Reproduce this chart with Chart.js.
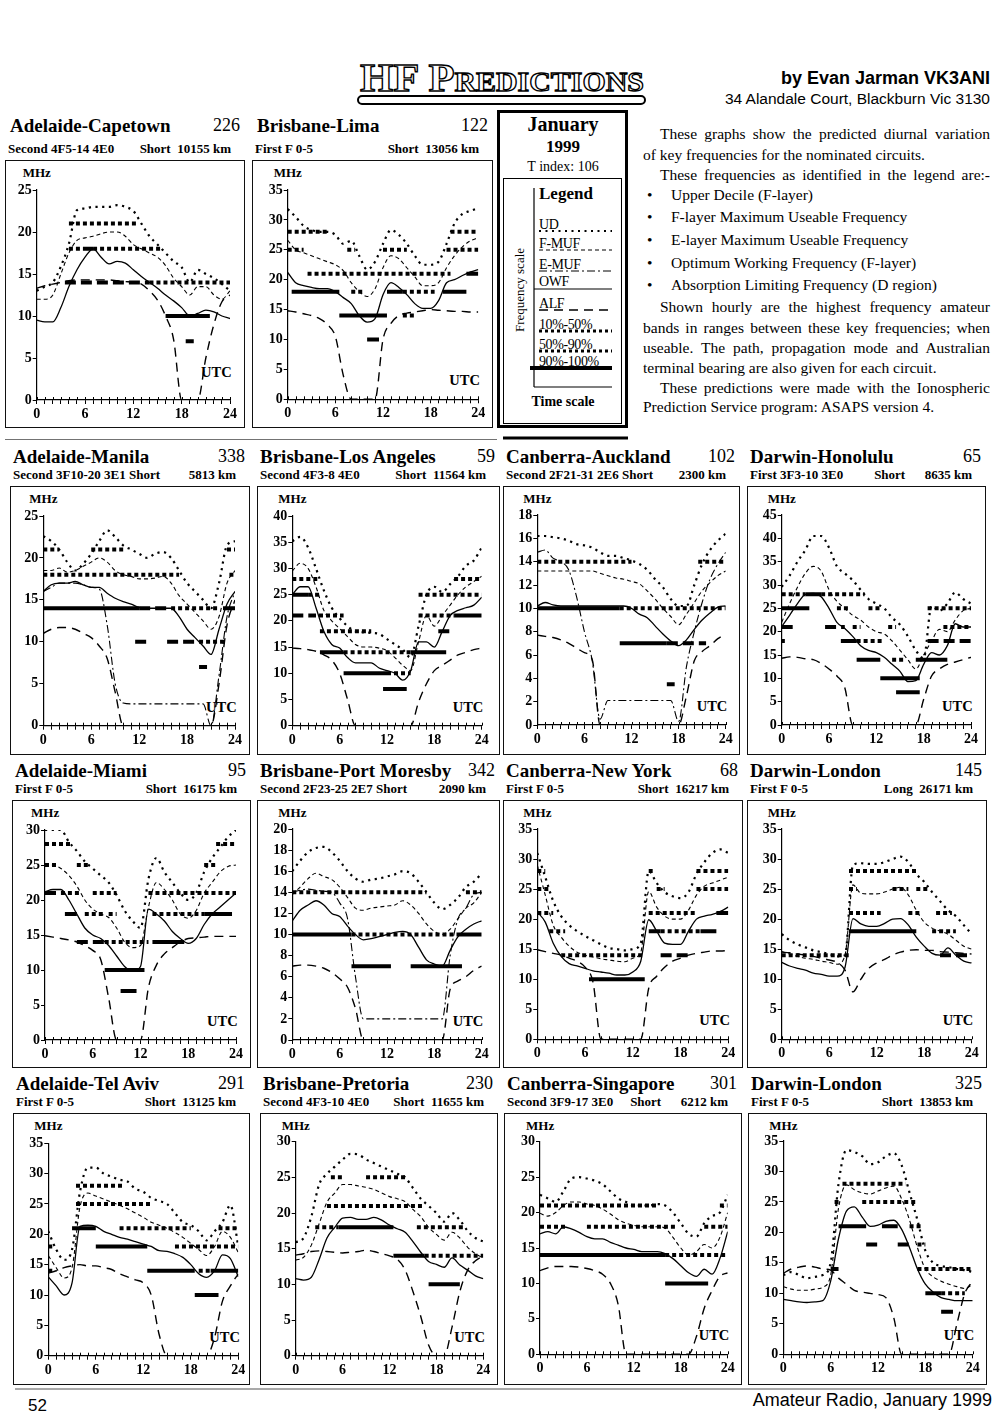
<!DOCTYPE html>
<html><head><meta charset="utf-8">
<script src="https://cdn.jsdelivr.net/npm/chart.js@4.4.1/dist/chart.umd.min.js"></script>
<style>
html,body{margin:0;padding:0;background:#fff;}
body{width:1000px;height:1426px;position:relative;overflow:hidden;font-family:"Liberation Serif",serif;color:#000;}
.abs{position:absolute;white-space:pre;}
.box{position:absolute;border:1.5px solid #111;box-sizing:border-box;}
canvas{position:absolute;}
.ttl{font:bold 19px/19px "Liberation Serif";}
.num{font:18px/19px "Liberation Serif";}
.sub{font:bold 13px/13px "Liberation Serif";}
.mhz{font:bold 13px/13px "Liberation Serif";}
.utc{font:bold 14.5px/14.5px "Liberation Serif";}
.para{position:absolute;font:15.5px/20px "Liberation Serif";white-space:nowrap;}
.j{text-align:justify;text-align-last:justify;white-space:normal;}
.lg{position:absolute;font:14px/14px "Liberation Serif";letter-spacing:-0.4px;white-space:pre;}
</style></head><body>

<!-- header -->
<div id="hfbar" style="position:absolute;left:357px;top:95px;width:289px;height:10px;border:2px solid #000;border-radius:5px;box-sizing:border-box;background:#fff"></div>
<div id="hf" class="abs" style="left:360px;top:58px;font:bold 40px/40px 'Liberation Serif';font-variant:small-caps;color:#fff;-webkit-text-stroke:1.3px #000;transform-origin:0 0;letter-spacing:0px">HF Predictions</div>
<div class="abs" style="right:10px;top:68px;font:bold 18px/20px 'Liberation Sans'">by Evan Jarman VK3ANI</div>
<div class="abs" style="right:10px;top:90px;font:15.5px/18px 'Liberation Sans'">34 Alandale Court, Blackburn Vic 3130</div>

<!-- legend panel -->
<div style="position:absolute;left:497px;top:110px;width:131px;height:318px;border:3px solid #000;box-sizing:border-box"></div>
<div style="position:absolute;left:503px;top:178px;width:119px;height:246px;border:1.5px solid #000;box-sizing:border-box"></div>
<div class="abs" style="left:503px;width:120px;text-align:center;top:114px;font:bold 20px/20px 'Liberation Serif'">January</div>
<div class="abs" style="left:503px;width:120px;text-align:center;top:138px;font:bold 17px/17px 'Liberation Serif'">1999</div>
<div class="abs" style="left:503px;width:120px;text-align:center;top:160px;font:14px/14px 'Liberation Serif'">T index: 106</div>
<div class="abs" style="left:539px;top:185px;font:bold 17px/17px 'Liberation Serif'">Legend</div>
<div class="lg" style="left:539px;top:218px">UD</div>
<div class="lg" style="left:539px;top:237px">F-MUF</div>
<div class="lg" style="left:539px;top:258px">E-MUF</div>
<div class="lg" style="left:539px;top:275px">OWF</div>
<div class="lg" style="left:539px;top:297px">ALF</div>
<div class="lg" style="left:539px;top:318px">10%-50%</div>
<div class="lg" style="left:539px;top:338px">50%-90%</div>
<div class="lg" style="left:539px;top:355px">90%-100%</div>
<div class="abs" style="left:503px;width:120px;text-align:center;top:395px;font:bold 14px/14px 'Liberation Serif'">Time scale</div>
<div class="abs" style="left:519px;top:290px;font:13px/13px 'Liberation Serif';transform:translate(-50%,-50%) rotate(-90deg)">Frequency scale</div>
<svg style="position:absolute;left:0;top:0" width="1000" height="440">
  <line x1="534" y1="188" x2="534" y2="387" stroke="#000" stroke-width="1.2"/>
  <line x1="534" y1="387" x2="612" y2="387" stroke="#000" stroke-width="1.2"/>
  <line x1="539" y1="231" x2="612" y2="231" stroke="#000" stroke-width="2" stroke-dasharray="2 4.5"/>
  <line x1="539" y1="250" x2="612" y2="250" stroke="#000" stroke-width="1" stroke-dasharray="4 3"/>
  <line x1="539" y1="271" x2="612" y2="271" stroke="#000" stroke-width="1" stroke-dasharray="8 3 2 3"/>
  <line x1="534" y1="289" x2="612" y2="289" stroke="#000" stroke-width="1.2"/>
  <line x1="539" y1="310" x2="612" y2="310" stroke="#000" stroke-width="1.3" stroke-dasharray="9 6"/>
  <line x1="539" y1="331" x2="612" y2="331" stroke="#000" stroke-width="3" stroke-dasharray="3 3"/>
  <line x1="539" y1="351" x2="612" y2="351" stroke="#000" stroke-width="3" stroke-dasharray="3 3"/>
  <line x1="530" y1="368" x2="612" y2="368" stroke="#000" stroke-width="4"/>
  <line x1="5" y1="440" x2="497" y2="440" stroke="#444" stroke-width="1.5"/>
  <line x1="503" y1="438" x2="628" y2="438" stroke="#000" stroke-width="3"/>
</svg>

<!-- explanatory text -->
<div class="para j" style="left:660px;top:124px;width:330px">These graphs show the predicted diurnal variation</div>
<div class="para" style="left:643px;top:145px">of key frequencies for the nominated circuits.</div>
<div class="para j" style="left:660px;top:165px;width:330px">These frequencies as identified in the legend are:-</div>
<div class="para" style="left:647px;top:185px">•</div><div class="para" style="left:671px;top:185px">Upper Decile (F-layer)</div>
<div class="para" style="left:647px;top:207px">•</div><div class="para" style="left:671px;top:207px">F-layer Maximum Useable Frequency</div>
<div class="para" style="left:647px;top:230px">•</div><div class="para" style="left:671px;top:230px">E-layer Maximum Useable Frequency</div>
<div class="para" style="left:647px;top:253px">•</div><div class="para" style="left:671px;top:253px">Optimum Working Frequency (F-layer)</div>
<div class="para" style="left:647px;top:275px">•</div><div class="para" style="left:671px;top:275px">Absorption Limiting Frequency (D region)</div>
<div class="para j" style="left:660px;top:297px;width:330px">Shown hourly are the highest frequency amateur</div>
<div class="para j" style="left:643px;top:318px;width:347px">bands in ranges between these key frequencies; when</div>
<div class="para j" style="left:643px;top:338px;width:347px">useable. The path, propagation mode and Australian</div>
<div class="para" style="left:643px;top:358px">terminal bearing are also given for each circuit.</div>
<div class="para j" style="left:660px;top:378px;width:330px">These predictions were made with the Ionospheric</div>
<div class="para" style="left:643px;top:397px">Prediction Service program: ASAPS version 4.</div>

<!-- footer -->
<svg style="position:absolute;left:0;top:1380px" width="1000" height="20"><line x1="15" y1="9" x2="985" y2="9" stroke="#555" stroke-width="1.2"/></svg>
<div class="abs" style="left:28px;top:1396px;font:17px/20px 'Liberation Sans'">52</div>
<div class="abs" style="right:8px;top:1390px;font:18px/20px 'Liberation Sans'">Amateur Radio, January 1999</div>

<script>
// ---------------- DATA (hourly values 0..24 UTC, MHz) ----------------
const hours = [0,1,2,3,4,5,6,7,8,9,10,11,12,13,14,15,16,17,18,19,20,21,22,23,24];
const hourLabels = [0,6,12,18,24];

const titles   = ['Adelaide-Capetown','Brisbane-Lima','Adelaide-Manila','Brisbane-Los Angeles','Canberra-Auckland','Darwin-Honolulu','Adelaide-Miami','Brisbane-Port Moresby','Canberra-New York','Darwin-London','Adelaide-Tel Aviv','Brisbane-Pretoria','Canberra-Singapore','Darwin-London'];
const bearings = ['226','122','338','59','102','65','95','342','68','145','291','230','301','325'];
const modes    = ['Second 4F5-14 4E0','First F 0-5','Second 3F10-20 3E1 Short','Second 4F3-8 4E0','Second 2F21-31 2E6 Short','First 3F3-10 3E0','First F 0-5','Second 2F23-25 2E7 Short','First F 0-5','First F 0-5','First F 0-5','Second 4F3-10 4E0','Second 3F9-17 3E0','First F 0-5'];
const paths    = ['Short  10155 km','Short  13056 km','5813 km','Short  11564 km','2300 km','Short      8635 km','Short  16175 km','2090 km','Short  16217 km','Long  26171 km','Short  13125 km','Short  11655 km','Short      6212 km','Short  13853 km'];
const yMaxes   = [25,35,25,40,18,45,30,20,35,35,35,30,30,35];
const ySteps   = [5,5,5,5,2,5,5,2,5,5,5,5,5,5];

// Adelaide-Capetown
const capeUD   = [13,13.5,14,15.9,18.6,22.6,22.8,23,23,23,23.2,23,22.5,21,19.5,18.5,17.5,16.5,15.8,14,15.5,15,14.5,13.8,13];
const capeFMUF = [12,12,12.5,15,17.5,19,19.3,19.5,19.8,20,20,19.5,18.5,18,17.5,17,16,14.5,13.5,12.5,13.5,13.5,12.5,12,13];
const capeOWF  = [9.5,9.3,9.3,11,13.5,15.5,17,18,17,16.2,16.5,16.3,15.5,14.7,14,13.3,12.5,11.8,11,10,10.3,10.7,10.5,10,9.7];
const capeALF  = [13.3,13.6,13.8,14,14.2,14.3,14.3,14.3,14.3,14.3,14.2,14.1,14,13.8,13,11.9,10,7.2,0,0,0,5,9,11.7,12.5];
const capeBands = [[21,4,12.5,1],[18,4,6,1],[18,6,7,3],[18,7,15.5,1],[14,14,24,1],[14,3.5,14,2],[10,16,21.5,3],[7,18.5,19.5,3]];

// Brisbane-Lima
const limaUD   = [31.8,30.5,29,28.3,28,28,27.5,26,26.5,24,21.7,23,26,28.3,27.5,26,24,22.5,22.5,23,26,29.4,31,31.5,32];
const limaFMUF = [26.6,25,24.5,24,23.5,23,22.5,21.5,19.5,18,17.2,18.5,22,24,23.5,22,20.5,19,19,19.5,22,24,25.5,26.5,27];
const limaOWF  = [21.2,19.5,19,18.7,18.5,18.5,18,17,16,14,12.9,13.5,17.5,19.5,18.7,17.5,16,15.2,15.2,16.5,19.5,20,20.7,21.3,21.7];
const limaALF  = [14.8,14.6,14.3,14,13.5,12.5,10.5,4,0,0,0,0,10,12.7,14,14.4,14.6,14.8,15,14.9,14.8,14.7,14.7,14.6,14.6];
const limaBands = [[28,0,5,1],[25,0,2,1],[21,2.5,20.5,1],[25,7.5,8.5,1],[25,12,15,1],[18,8,9.5,1],[18,14.5,18.5,1],[28,20.5,24,1],[25,20,24,1],[14,14.5,16,1],[18,0.5,6.5,3],[14,6.5,12.5,3],[18,12.5,14.5,3],[18,19.5,22.5,3],[10,10,11.5,3],[21,22.5,24,3]];

// Adelaide-Manila
const manUD   = [22.6,22,21,19.5,18.5,19.3,20.5,22,23.3,22.5,21.5,21,20.5,20,20.5,20.7,20,18.5,17,16,15,14,17,21.5,22];
const manFMUF = [18.5,18.5,18.8,18.3,18.5,19,19.5,20,19.5,18.5,18,17.8,17.5,17.5,17.6,17.8,17,15.5,14.5,13.5,12.5,11.5,13,17,18.5];
const manEMUF = [16,16.5,17,17,17,16.8,16.5,16.3,12,5,2.7,2.6,2.6,2.6,2.6,2.6,2.6,2.6,2.6,2.6,2.6,0,6,13,16];
const manOWF  = [16,16.8,17,17,17.2,16.8,16.5,16.5,15.8,15.2,14.8,14.5,14.1,14,14,14,14,13,11.5,10.5,9.5,8.5,11.5,14.5,16];
const manALF  = [11,11.5,11.7,11.7,11.5,11,10.5,9.5,8,4,0,0,0,0,0,0,0,0,0,0,0,0,5,12,15];
const manBands = [[21,0,2,1],[21,6,10,1],[21,23,24,1],[18,0,17,1],[18,23.3,24,1],[14,16,22,1],[10,19.5,23,1],[14,12,16,2],[10,11.5,13.5,2],[10,15.5,19.5,2],[14,0,12,3],[14,22.5,24,3],[7,19.5,20.5,3]];

// Brisbane-Los Angeles
const laUD   = [35.2,36,34,30,25.8,22.5,20.5,19,18,17.8,17.7,17.5,16.5,15.5,14.5,13,19,25,26.5,25.5,27,28.5,30.5,31.5,34];
const laFMUF = [29.5,31,30,26.5,22,20,18.5,17,15.5,15,15,14.8,14.3,13,11.5,10.5,16,21,19,21,23,25,26.5,27.5,28.5];
const laOWF  = [25,26.5,26.5,22.5,18,15.5,14.8,13,12,12,12,11,10.5,10,8.7,10.5,16,16,15,18,21,22,22.5,23,24.5];
const laALF  = [14.8,14.7,14.5,14.2,13.5,12.5,10,5,0,0,0,0,0,0,0,0,4.5,8,10.5,11.5,12.5,13.5,14,14.5,14.8];
const laBands = [[28,0,3.5,1],[28,20.5,24,1],[25,2,3.5,1],[25,16,24,1],[21,2.5,6.5,1],[21,16,20.5,1],[18,3.5,10,1],[14,6.5,15,1],[10,12,15,1],[21,0,2.5,2],[18,18.5,20.5,2],[25,0,2,3],[21,20.5,24,3],[14,3.5,6.5,3],[14,15,19.5,3],[10,6.5,12,3],[7,11.5,14.5,3]];

// Canberra-Auckland
const akUD   = [16.2,16.2,16.1,16,15.8,15.5,15.4,15.2,14.8,14.5,14.5,14.3,14.1,13.8,13.3,12.5,11.8,10.8,10.2,10.2,12,13.8,15,15.8,16.4];
const akFMUF = [13.2,13.2,13.2,13.2,13.2,13.2,13.2,13.2,13,12.8,12.6,12.5,12.3,12.1,11.5,10.8,10,9.3,8.6,9.5,10.5,11.5,12.2,12.8,13.2];
const akEMUF = [14.8,15,14.3,14,13.3,11,8,5.5,0.5,2.1,2.1,2.1,2.1,2.1,2.1,2.1,2.1,2.1,0.3,5,8,10.5,12.5,13.8,14.8];
const akOWF  = [10.2,10.5,10.3,10.2,10.2,10.2,10.2,10.2,10.2,10.2,10.2,10.2,10,9.5,9.2,8.5,7.8,7.2,6.8,7.3,8.2,9,9.6,10.1,10.2];
const akALF  = [7.7,7.6,7.5,7.3,7,6.6,6.2,5.6,0,0,0,0,0,0,0,0,0,0,0,2.5,5.5,6.3,6.8,7.4,7.8];
const akBands = [[14,0,12,1],[14,20.5,24,1],[10,10.5,24,1],[7,16.5,21.5,2],[10,0,10.5,3],[7,10.5,16.5,3],[3.5,16.5,17.5,3]];

// Darwin-Honolulu
const hnUD   = [29.6,32,35,37.5,40.5,40.5,38,34,32.5,31,29,27,26,25,23,21.5,19,16,14.3,25.5,24.5,26,28.4,27,26];
const hnFMUF = [22,26,29.5,32.5,34,33,29,26.5,25,23.5,22.5,21,20,19.5,18,16,14,12,15,18,20.5,20,22.5,24.5,25];
const hnOWF  = [21.1,23.5,26,28,28.2,27.5,25,22,20.7,19,17,16,15.5,14.5,13,11.5,9.3,9.5,13,15.5,15,17,21.7,21,21];
const hnALF  = [14.3,14.6,14.5,14.2,14,13.2,12,10.5,8,0,0,0,0,0,0,0,0,0,5.5,10.5,12,13,13.5,14,14.5];
const hnBands = [[28,0,3,1],[28,5,10.5,1],[25,7,8.5,1],[25,11,12.5,1],[25,18.5,24,1],[21,9,10,1],[21,13.5,14.5,1],[21,20.5,24,1],[18,9.5,13,1],[14,14,15.5,1],[21,0,1.5,2],[21,5.5,8,2],[18,0,0.4,2],[18,18.5,24,2],[28,3,5,3],[25,0,3.5,3],[18,7.5,9.5,3],[14,9.5,12.5,3],[14,17,21,3],[10,12.5,17.5,3],[7,14.5,17.5,3]];

// Adelaide-Miami
const miUD   = [30,30,30,28.3,27,25.5,24.5,23.5,22.5,20.7,18.5,17,16,23,26,24,22.5,21,20,21,24,26,27.5,29,30];
const miFMUF = [25.2,25,24.5,23.5,22,20,18.7,18,17.5,16,14,13.2,13.5,19,22.5,21.5,20,18,17.4,18.5,21,22.5,24,24.8,25];
const miOWF  = [21.2,21.5,21.5,20,18,16,15,14.5,13.5,12,10.5,9.8,10.5,18.7,18,17,15.5,14.5,13.8,14.5,16.5,18,19,20,21];
const miALF  = [14.9,14.7,14.5,14.3,14,13.5,12.8,11.5,6,0,0,0,0,7.5,10.7,12.3,13.2,14,14.5,14.6,14.7,14.8,14.8,14.8,14.8];
const miBands = [[28,0,3.5,1],[28,21.5,24,1],[25,0,1.5,1],[25,4,5.5,1],[25,20,21.5,1],[21,2,4.5,1],[21,6,9,1],[21,13,24,1],[18,5,7.5,1],[18,8,9,1],[18,13.5,20,1],[14,7.5,13,1],[21,0,2,2],[14,4,7.5,2],[18,2.5,4,3],[18,20,23.5,3],[14,13.5,17.5,3],[10,7.5,12.5,3],[7,9.5,11.5,3]];

// Brisbane-Port Moresby
const pmUD   = [16,17,17.8,18.2,18.3,17.8,17,16,15.3,15,15.2,15.3,15.5,15.7,16,15.8,15,14,13,12.4,12.8,13.5,14.5,15,15.8];
const pmFMUF = [13.8,14.5,15.3,15.8,15.5,15.2,14.5,13.5,12.5,12.3,12.5,12.6,12.7,12.8,13.2,12.8,12,11,10.3,10,10.5,11.5,12.5,13,14];
const pmEMUF = [14,14.2,14.3,14.2,14.1,14,13,11.5,6,2,2,2,2,2,2,2,2,2,2,2,8,11.5,12.5,13.8,14];
const pmOWF  = [11.3,12.3,12.8,13.2,12.8,12,11.7,10.8,10,9.5,9.6,9.8,10,10.2,10.3,10,8.8,7.6,7.2,7,8.5,9.8,10.5,11,11.3];
const pmALF  = [7,7.1,7.1,7,6.8,6.4,5.8,5,3,0,0,0,0,0,0,0,0,0,0,0,4.8,5.6,6,6.6,7];
const pmBands = [[14,0,17,1],[14,22,24,1],[10,7.5,21,1],[10,0,7.5,3],[10,21,24,3],[7,7.5,12.5,3],[7,15,21.5,3]];

// Canberra-New York
const nyUD   = [31,27,23,20.5,19,18,17.2,16.5,15.8,15.2,15,14.8,15,16,28,26,24.5,23.8,23.5,24.5,27.5,29.5,31,31.6,31];
const nyFMUF = [29,24,19,17,15.5,14.5,14,13.7,13.4,13.2,13,12.9,13.5,14.5,24.6,22,20.5,20,20,21.5,24,25.5,26,26.5,27];
const nyOWF  = [21.2,19.5,16,13.8,12.6,12.2,11.8,11.4,11.2,11,10.7,10.7,11.2,13,19.9,18,16,15.8,15.8,18,20,20.5,20.8,21.3,22];
const nyALF  = [14.9,14.6,14.3,14,13.5,13,12,9.5,0,0,0,0,0,0,8.5,10.5,12,13,13.5,14,14.3,14.5,14.7,14.7,14.8];
const nyBands = [[28,0,1,1],[28,14,14.5,1],[28,20,24,1],[25,0,1.5,1],[25,15,16,1],[25,20,24,1],[21,0,2,1],[21,14,20,1],[18,1.5,3.5,1],[18,15.5,20.5,1],[14,3,13.5,1],[14,15.5,19.5,2],[21,22.5,24,3],[18,14,15.5,3],[18,20.5,22.5,3],[10,6.5,13.5,3]];

// Darwin-London (long path)
const llUD   = [17.5,16.5,15.8,15.3,14.8,14.5,14.2,13.8,14,29,29.3,29.2,29.2,29.5,30,30.4,29.5,27.5,26.2,24.5,23,21.5,20.5,19,17.5];
const llFMUF = [14.6,14.2,13.8,13.5,13.3,13,12.8,12.5,14,25.7,24.3,24.2,24.2,24.5,25,25.3,24,21.5,19.5,18.5,18,17.5,16.5,15.5,15];
const llOWF  = [12.8,12.2,11.8,11.5,11,10.8,10.5,10.5,12,20.1,19.2,18.8,18.8,19.3,20,20.1,19,17,15.5,14.3,14,15.2,14,13,12.7];
const llALF  = [14.5,14.4,14.2,14,13.8,13.5,13.2,12.8,11.5,7.9,10,11.8,12.7,13.3,14,14.5,14.8,14.9,14.8,14.8,14.6,14.5,14.4,14.3,14.2];
const llBands = [[28,8.5,17,1],[25,8.5,9.5,1],[25,14,16,1],[25,17,18.5,1],[21,8.5,12.5,1],[21,16,17.5,1],[21,19.5,21.5,1],[18,19,22,1],[14,0,8.5,1],[14,20,24,2],[18,8.5,17,3]];

// Adelaide-Tel Aviv
const taUD   = [20.5,17.5,15.8,17.5,27,31,31,30,29.5,29,28.7,27.5,27,26,25.5,25,23.5,22,21.5,20.5,19,20.5,22,24.8,18];
const taFMUF = [16.5,14.5,12.8,14.5,24.5,26.8,26.3,25.8,25.3,24.8,24.2,23.5,22.8,22,21.5,21,20.3,19.5,18.5,17.5,16.5,18,20.5,19.5,17];
const taOWF  = [13,11.5,10,12,21.3,21.5,21.3,20.5,20,19.5,19.2,18.8,18.4,18,17.3,17.2,16.8,16.2,15,13.5,12.9,14,16.6,16,13];
const taALF  = [13.6,14,14.5,14.8,15,14.8,14.8,14.5,14.2,13.5,13,12.5,12,10,3.5,0,0,0,0,0,0,3,9,11.5,13.5];
const taBands = [[28,3.5,9.5,1],[25,3.5,13,1],[21,9,18,1],[21,21.5,24,1],[18,0,0.5,1],[18,16,24,1],[14,0,0.5,1],[14,19,20.5,1],[21,3,6,3],[18,6,12.5,3],[14,12.5,18.5,3],[14,20.5,24,3],[10,18.5,21.5,3]];

// Brisbane-Pretoria
const prUD   = [15.9,16.5,19.5,24,25.5,26.5,27.5,28.3,28.2,27.5,27,26.5,26,25.5,25,23.5,22,21,20,18.8,20,19,17.5,16.5,16];
const prFMUF = [13.4,13.8,15.5,18.5,21.5,22.8,24,24,23.8,23.6,23.3,22.8,22.3,22,21.6,20.5,19.5,18,17,16.2,17.3,16.5,15.2,14.3,13.7];
const prOWF  = [10.8,10.6,11,13.5,16.5,18,19.3,19.4,19.1,19.1,19.4,19,18.3,17.8,17.3,16,14.5,13.2,12.8,12.4,13.7,12.7,12,11.2,10.8];
const prALF  = [14.1,14.3,14.6,14.7,14.6,14.5,14.4,14.5,14.6,14.8,14.6,14.3,14,13.5,12,9,5.5,1.5,0,0,4,9,12,13.3,14];
const prBands = [[25,4.5,6,1],[25,9,14,1],[21,4,16.5,1],[18,2.5,5.5,1],[18,15.5,21.5,1],[14,16.5,24,1],[18,5.5,12.5,3],[14,12.5,16.5,3],[10,17,21,3]];

// Canberra-Singapore
const sgUD   = [22.5,22,21.5,23,24.8,25,24.8,24.5,24,23,22,21.5,21,21,21,21.2,21,20,18.5,17,16.6,18.5,19.5,20,22.5];
const sgFMUF = [19.9,19.5,20,21,21.5,21.5,21.2,21,20.5,19.8,19,18.5,18.2,18,18,18,17.8,16.5,15,14,14.5,15.5,15,16.5,20];
const sgOWF  = [17,17.3,17,18,17.7,17.2,16.6,16.3,16.3,15.8,15.4,15,14.8,14.5,14.5,14.5,14.2,13.5,12.5,11.5,11,12,11.3,13.5,17.3];
const sgALF  = [11.8,12.2,12.4,12.4,12.4,12.3,12.1,11.8,11.3,10,7,0,0,0,0,0,0,0,0,0,2.5,6.5,9,11,11.5];
const sgBands = [[21,0,15,1],[21,23,24,1],[18,0,3.5,1],[18,6,17.5,1],[18,21,24,1],[14,16,24,1],[14,0,16,3],[10,16,21.5,3]];

// Darwin-London (short path)
const lsUD   = [13,13.5,13,12.5,12.7,13,15,28,33.5,33.2,32.5,31.2,31.5,32.5,33,31,26.5,22,17,15,14.5,14.3,14,13.8,13.5];
const lsFMUF = [11.1,10.7,10.5,10.5,10.7,11,13,24,27.8,27,26.5,26.3,26.8,27.3,27.6,25.5,22,17.5,14,12.7,12,11.5,11.1,10.8,11.5];
const lsOWF  = [9,8.8,8.6,8.5,8.6,8.8,12,19,23.5,24.2,22.5,21,21.2,21.8,22,20.5,17.5,14,11.5,10.2,9.3,9,8.8,8.8,8.8];
const lsALF  = [13.3,14,14.3,14.5,14.3,14,13.8,12.5,11.5,10.5,10.2,10,9.8,9.3,6,0,0,0,0,0,0,0,5,10,12];
const lsBands = [[28,7.5,15.5,1],[25,6.5,7,1],[25,10,17,1],[21,16,17.5,1],[18,17,18,1],[14,17,24,1],[10,20,23,1],[18,10.5,12.5,2],[18,14.5,16.5,2],[14,6,7,2],[21,7,10.5,3],[21,12.5,14.5,3],[10,18,20,3],[7,20,21.5,3]];

// ---------------- LAYOUT (box left, top, right, bottom, x(0), x(24), y(top), y(0)) ----------------
const geoms = [
  [5,160,245,428, 36.7,230, 190,400],
  [252,160,493,428, 287.7,478.3, 190,399.3],
  [10,486,250,755, 43.3,235, 516,725.7],
  [257,486,500,755, 292.3,481.7, 516,725.7],
  [503,486,740,755, 537.3,725.7, 515,725],
  [747,486,986,755, 781.7,971, 515,725],
  [12,800,251,1068, 45,236, 830,1040],
  [257,800,500,1068, 292.3,481.7, 829,1040],
  [503,800,743,1068, 537.3,728.3, 829,1039.3],
  [747,800,987,1068, 781.7,971.7, 829,1039.3],
  [13,1113,250,1385, 48.3,238.3, 1143.3,1355.7],
  [260,1113,498,1385, 295.7,483.3, 1141.7,1355.7],
  [504,1113,742,1385, 540,727.7, 1141.7,1354.3],
  [748,1113,987,1385, 783.3,972.7, 1141,1354.3]
];

const series = [
  [capeUD,capeFMUF,null,capeOWF,capeALF,capeBands],
  [limaUD,limaFMUF,null,limaOWF,limaALF,limaBands],
  [manUD,manFMUF,manEMUF,manOWF,manALF,manBands],
  [laUD,laFMUF,null,laOWF,laALF,laBands],
  [akUD,akFMUF,akEMUF,akOWF,akALF,akBands],
  [hnUD,hnFMUF,null,hnOWF,hnALF,hnBands],
  [miUD,miFMUF,null,miOWF,miALF,miBands],
  [pmUD,pmFMUF,pmEMUF,pmOWF,pmALF,pmBands],
  [nyUD,nyFMUF,null,nyOWF,nyALF,nyBands],
  [llUD,llFMUF,null,llOWF,llALF,llBands],
  [taUD,taFMUF,null,taOWF,taALF,taBands],
  [prUD,prFMUF,null,prOWF,prALF,prBands],
  [sgUD,sgFMUF,null,sgOWF,sgALF,sgBands],
  [lsUD,lsFMUF,null,lsOWF,lsALF,lsBands]
];

// ---------------- STYLES ----------------
const lineStyles = [
  {w:2.2, d:[2.2,4.5]},    // UD
  {w:1.1, d:[4,3]},        // F-MUF
  {w:1.1, d:[8,3,2,3]},    // E-MUF
  {w:1.3, d:[]},           // OWF
  {w:1.4, d:[9,6]}         // ALF
];
const bandDash = {1:[4,3], 2:[11,5], 3:[]};

Chart.defaults.font.family = '"Liberation Serif", serif';
Chart.defaults.color = '#000';

const crossTicks = {
  id:'crossTicks',
  afterDraw(chart){
    const {ctx, chartArea:a, scales} = chart;
    const x = scales.x;
    ctx.save(); ctx.strokeStyle = '#000'; ctx.lineWidth = 1;
    hours.forEach(h => {
      const px = Math.round(x.getPixelForValue(h)) + 0.5;
      ctx.beginPath(); ctx.moveTo(px, a.bottom - 3); ctx.lineTo(px, a.bottom); ctx.stroke();
    });
    ctx.restore();
  }
};

function addText(cls, text, css){
  const d = document.createElement('div');
  d.className = 'abs ' + cls;
  d.textContent = text;
  Object.assign(d.style, css);
  document.body.appendChild(d);
  return d;
}

geoms.forEach((g, i) => {
  const [l,t,r,b,x0,x24,yt,y0] = g;
  const w = r - l, h = b - t;
  const row1 = i < 2;
  addText('ttl', titles[i], {left:(l+ (row1?5:3))+'px', top:(t - (row1?28:23) - 16)+'px'});
  addText('num', bearings[i], {left:(l)+'px', width:(w-5)+'px', textAlign:'right', top:(t - (row1?28:23) - 16)+'px'});
  addText('sub', modes[i], {left:(l+3)+'px', top:(t - 7 - 11)+'px'});
  addText('sub', paths[i], {left:(l)+'px', width:(w-14)+'px', textAlign:'right', top:(t - 7 - 11)+'px'});
  const bx = document.createElement('div');
  bx.className = 'box';
  Object.assign(bx.style, {left:l+'px', top:t+'px', width:w+'px', height:h+'px'});
  document.body.appendChild(bx);
  addText('mhz', 'MHz', {left:(x0-14)+'px', top:(t+6)+'px'});
  addText('utc', 'UTC', {left:(x24-29)+'px', top:(y0 - (i===0?23:14) - 12)+'px'});

  const cv = document.createElement('canvas');
  cv.width = w; cv.height = h;
  Object.assign(cv.style, {left:l+'px', top:t+'px', width:w+'px', height:h+'px'});
  document.body.appendChild(cv);

  const L = x0 - l, R = r - x24, T = yt - t, B = b - y0;
  const s = series[i];
  const datasets = [];
  [3,2,1].forEach(c => {
    const bands = s[5].filter(e => e[3] === c);
    if (!bands.length) return;
    const pts = [];
    bands.forEach(e => { pts.push({x:e[1], y:e[0]}, {x:e[2], y:e[0]}, {x:e[2], y:null}); });
    datasets.push({data:pts, borderColor:'#000', borderWidth:4, borderDash:bandDash[c], borderCapStyle:'butt',
      pointRadius:0, tension:0, spanGaps:false, fill:false});
  });
  for (let k = 0; k < 5; k++) {
    const arr = s[k];
    if (!arr) continue;
    datasets.push({data: arr.map((v, j) => ({x: hours[j], y: v})), borderColor:'#000',
      borderWidth: lineStyles[k].w, borderDash: lineStyles[k].d, pointRadius:0, fill:false,
      cubicInterpolationMode:'monotone', tension:0.4});
  }

  new Chart(cv, {
    type:'line',
    data:{datasets},
    plugins:[crossTicks],
    options:{
      responsive:false, animation:false, devicePixelRatio:1,
      layout:{padding:{top:T, right:R, left:0, bottom:0}},
      plugins:{legend:{display:false}, tooltip:{enabled:false}},
      scales:{
        x:{type:'linear', min:0, max:24,
           afterFit(sc){ sc.height = B; },
           ticks:{stepSize:1, autoSkip:false, maxRotation:0, padding:2,
                  font:{weight:'bold', size:14},
                  callback:v => hourLabels.includes(v) ? String(v) : ''},
           grid:{drawOnChartArea:false, tickLength:4, color:'#000'},
           border:{display:true, color:'#000', width:1.2}},
        y:{type:'linear', min:0, max:yMaxes[i],
           afterFit(sc){ sc.width = L; },
           ticks:{stepSize:ySteps[i], padding:1, font:{weight:'bold', size:14}},
           grid:{drawOnChartArea:false, tickLength:4, color:'#000'},
           border:{display:true, color:'#000', width:1.2}}
      }
    }
  });
});

const hf = document.getElementById('hf');
const sc = 284 / hf.offsetWidth;
hf.style.transform = 'scaleX(' + sc + ')';
</script>
</body></html>
